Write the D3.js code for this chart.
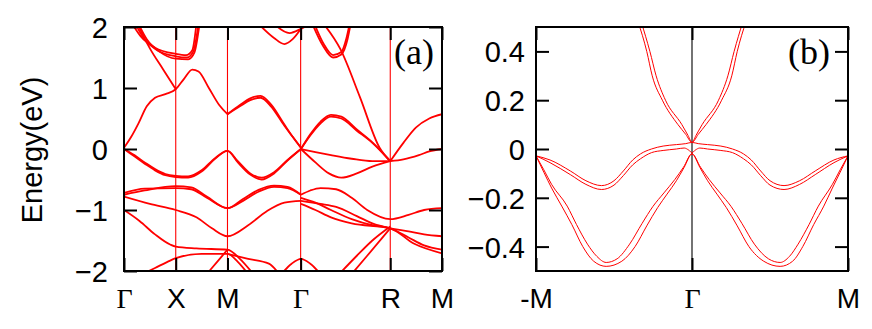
<!DOCTYPE html>
<html><head><meta charset="utf-8">
<script src="https://cdn.jsdelivr.net/npm/d3@7"></script>
<style>body{margin:0;background:#fff}</style>
</head><body><svg id="c" width="872" height="329"></svg>
<script>
// ---------- tick data ----------
const kTicksA = [0, 0.5, 1.0, 1.707, 2.573, 3.073];
const kLabelsA = ["Γ", "X", "M", "Γ", "R", "M"];
const eTicksA = [-2, -1, 0, 1, 2];
const kTicksB = [-1, 0, 1];
const kLabelsB = ["-M", "Γ", "M"];
const eTicksB = [-0.4, -0.2, 0, 0.2, 0.4];

// ---------- panel (a) bands: [k, E] ----------
const upperBandsA = [
  [[0,0.02],[0.07,0.2],[0.14,0.42],[0.22,0.7],[0.3,0.84],[0.4,0.9],[0.5,0.98],[0.58,1.15],[0.66,1.3],[0.72,1.27],[0.82,1.0],[0.92,0.72],[1.0,0.57]],
  [[0.13,2.05],[0.25,1.65],[0.38,1.3],[0.5,0.98]],
  [[0.08,2.05],[0.16,1.85],[0.3,1.66],[0.5,1.56],[0.6,1.54],[0.66,1.62],[0.70,2.05]],
  [[0.11,2.05],[0.19,1.82],[0.32,1.62],[0.5,1.52],[0.61,1.5],[0.67,1.6],[0.72,2.05]],
  [[0.14,2.05],[0.22,1.8],[0.34,1.6],[0.5,1.48],[0.62,1.47],[0.68,1.58],[0.73,2.05]],
  [[1.0,0.57],[1.12,0.7],[1.22,0.8],[1.32,0.84],[1.42,0.7],[1.55,0.38],[1.63,0.2],[1.71,0.02]],
  [[1.0,0.57],[1.12,0.72],[1.22,0.83],[1.32,0.87],[1.42,0.73],[1.55,0.4],[1.63,0.2],[1.71,0.02]],
  [[1.71,0.0],[1.8,0.22],[1.9,0.42],[2.0,0.53],[2.1,0.5],[2.25,0.3],[2.4,0.1],[2.573,-0.2]],
  [[1.71,0.0],[1.8,0.24],[1.9,0.45],[2.0,0.56],[2.1,0.53],[2.25,0.32],[2.4,0.11],[2.573,-0.2]],
  [[1.93,2.05],[2.09,1.64],[2.28,0.85],[2.47,0.02],[2.573,-0.2]],
  [[1.82,2.05],[1.92,1.7],[2.02,1.5],[2.1,1.55],[2.16,1.8],[2.19,2.05]],
  [[1.84,2.05],[1.93,1.72],[2.02,1.54],[2.1,1.59],[2.15,1.82],[2.18,2.05]],
  [[1.3,2.05],[1.45,1.82],[1.55,1.72],[1.63,1.8],[1.71,1.97]],
  [[1.45,2.05],[1.6,1.9],[1.71,1.97],[1.8,2.05]],
  [[2.573,-0.2],[2.7,0.1],[2.82,0.35],[2.95,0.5],[3.073,0.57]],
  [[2.573,-0.2],[2.7,-0.17],[2.85,-0.1],[2.95,-0.04],[3.073,0.0]]
];
const lowerBandsA = [
  [[0,0.0],[0.1,-0.1],[0.2,-0.22],[0.3,-0.33],[0.4,-0.41],[0.5,-0.44],[0.62,-0.45],[0.75,-0.35],[0.88,-0.15],[1.0,-0.03],[1.1,-0.2],[1.22,-0.4],[1.33,-0.47],[1.45,-0.38],[1.58,-0.18],[1.71,0.0]],
  [[0,0.0],[0.1,-0.12],[0.2,-0.24],[0.3,-0.35],[0.4,-0.43],[0.5,-0.46],[0.62,-0.47],[0.75,-0.37],[0.88,-0.16],[1.0,-0.03],[1.1,-0.22],[1.22,-0.42],[1.33,-0.5],[1.45,-0.4],[1.58,-0.19],[1.71,0.0]],
  [[1.71,0],[1.85,-0.22],[1.98,-0.4],[2.1,-0.47],[2.25,-0.4],[2.4,-0.29],[2.573,-0.2]],
  [[1.71,0],[1.85,-0.05],[2.0,-0.1],[2.2,-0.16],[2.4,-0.2],[2.573,-0.2]],
  [[0,-0.75],[0.2,-0.68],[0.5,-0.61],[0.65,-0.63],[0.8,-0.78],[1.0,-0.97],[1.15,-0.85],[1.3,-0.7],[1.45,-0.62],[1.58,-0.64],[1.71,-0.75]],
  [[0,-0.72],[0.2,-0.65],[0.5,-0.64],[0.65,-0.66],[0.8,-0.8],[1.0,-0.97],[1.15,-0.82],[1.3,-0.67],[1.45,-0.6],[1.58,-0.62],[1.71,-0.75]],
  [[0,-0.78],[0.25,-0.9],[0.5,-1.0],[0.7,-1.12],[0.85,-1.3],[1.0,-1.43],[1.2,-1.25],[1.38,-1.02],[1.55,-0.88],[1.71,-0.85]],
  [[0,-1.0],[0.15,-1.18],[0.3,-1.4],[0.45,-1.57],[0.5,-1.6],[0.7,-1.63],[1.0,-1.65],[1.12,-1.8],[1.25,-2.05]],
  [[0.18,-2.05],[0.3,-1.95],[0.42,-1.85],[0.5,-1.79],[0.75,-1.72],[1.0,-1.72],[1.1,-1.85],[1.2,-2.05]],
  [[0.8,-2.05],[0.9,-1.85],[1.0,-1.65]],
  [[1.71,-0.75],[1.8,-0.68],[1.9,-0.64],[2.05,-0.66],[2.2,-0.8],[2.35,-1.0],[2.573,-1.15],[2.75,-1.08],[2.9,-1.0],[3.073,-0.97]],
  [[1.71,-0.85],[1.9,-0.9],[2.05,-0.95],[2.25,-1.1],[2.4,-1.22],[2.573,-1.3],[2.75,-1.35],[2.9,-1.4],[3.073,-1.43]],
  [[1.71,-0.8],[1.85,-0.88],[2.0,-1.0],[2.2,-1.15],[2.4,-1.25],[2.573,-1.3],[2.75,-1.45],[2.9,-1.58],[3.073,-1.65]],
  [[1.71,-0.9],[1.85,-1.0],[2.0,-1.12],[2.2,-1.22],[2.573,-1.3],[2.8,-1.55],[3.073,-1.71]],
  [[2.08,-2.05],[2.25,-1.75],[2.4,-1.5],[2.573,-1.27]],
  [[2.2,-2.05],[2.35,-1.75],[2.573,-1.3]],
  [[1.52,-2.05],[1.62,-1.88],[1.71,-1.8],[1.8,-1.88],[1.9,-2.05]],
  [[1.0,-1.72],[1.2,-1.8],[1.4,-1.88],[1.5,-2.05]]
];

// ---------- panel (b) bands: [k, E], -M=-1, Γ=0, M=1 ----------
const condBandsB = [
  [[-0.345,0.52],[-0.29,0.4],[-0.255,0.3],[-0.19,0.2],[-0.09,0.1],[-0.04,0.06],[0,0.027],[0.04,0.06],[0.09,0.1],[0.19,0.2],[0.255,0.3],[0.29,0.4],[0.345,0.52]],
  [[-0.325,0.52],[-0.27,0.4],[-0.23,0.3],[-0.17,0.2],[-0.065,0.1],[-0.025,0.055],[0,0.027],[0.025,0.055],[0.065,0.1],[0.17,0.2],[0.23,0.3],[0.27,0.4],[0.325,0.52]]
];
const flatBandsB = [
  [[-1,-0.028],[-0.91,-0.045],[-0.78,-0.09],[-0.68,-0.13],[-0.58,-0.15],[-0.5,-0.13],[-0.44,-0.09],[-0.38,-0.045],[-0.33,-0.02],[-0.26,0.0],[-0.185,0.012],[-0.1,0.018],[-0.04,0.022],[0,0.027],[0.04,0.022],[0.1,0.018],[0.185,0.012],[0.26,0.0],[0.33,-0.02],[0.38,-0.045],[0.44,-0.09],[0.5,-0.13],[0.59,-0.15],[0.69,-0.13],[0.79,-0.09],[0.91,-0.045],[1,-0.028]],
  [[-1,-0.028],[-0.91,-0.056],[-0.78,-0.105],[-0.68,-0.145],[-0.58,-0.166],[-0.5,-0.148],[-0.44,-0.109],[-0.38,-0.065],[-0.33,-0.04],[-0.26,-0.015],[-0.185,-0.006],[-0.1,0.0],[-0.05,0.004],[-0.02,-0.005],[0,-0.015],[0.02,-0.005],[0.05,0.004],[0.1,0.0],[0.185,-0.006],[0.26,-0.015],[0.33,-0.04],[0.38,-0.065],[0.44,-0.109],[0.5,-0.148],[0.59,-0.166],[0.69,-0.145],[0.79,-0.105],[0.91,-0.056],[1,-0.028]]
];
const deepBandsB = [
  [[-1,-0.028],[-0.95,-0.095],[-0.9,-0.16],[-0.835,-0.234],[-0.77,-0.31],[-0.70,-0.40],[-0.63,-0.46],[-0.55,-0.481],[-0.45,-0.46],[-0.365,-0.40],[-0.29,-0.315],[-0.22,-0.24],[-0.16,-0.185],[-0.1,-0.13],[-0.05,-0.075],[0,-0.02],[0.05,-0.075],[0.1,-0.13],[0.16,-0.185],[0.22,-0.24],[0.29,-0.315],[0.365,-0.40],[0.46,-0.46],[0.565,-0.481],[0.645,-0.46],[0.71,-0.40],[0.78,-0.31],[0.845,-0.234],[0.9,-0.16],[0.95,-0.095],[1,-0.028]],
  [[-1,-0.028],[-0.95,-0.085],[-0.9,-0.145],[-0.80,-0.234],[-0.74,-0.31],[-0.67,-0.39],[-0.61,-0.44],[-0.55,-0.465],[-0.48,-0.45],[-0.40,-0.39],[-0.32,-0.305],[-0.25,-0.235],[-0.18,-0.18],[-0.11,-0.125],[-0.055,-0.075],[0,-0.02],[0.055,-0.075],[0.11,-0.125],[0.18,-0.18],[0.25,-0.235],[0.32,-0.305],[0.40,-0.39],[0.49,-0.45],[0.565,-0.465],[0.625,-0.44],[0.68,-0.39],[0.75,-0.31],[0.81,-0.234],[0.9,-0.145],[0.95,-0.085],[1,-0.028]]
];

const svg = d3.select("#c");
const RED = "#ff0000";
const sans = "'Liberation Sans', Arial, sans-serif";
const serif = "'Liberation Serif', 'Times New Roman', serif";

function panel(opts) {
  const {x0,x1,y0,y1,kDom,eDom,kTicks,kLabels,eTicks,eFmt,vColor,bands,tag,tagX,id,pad} = opts;
  const x = d3.scaleLinear().domain(kDom).range([x0,x1]);
  const y = d3.scaleLinear().domain(eDom).range([y1,y0]);
  const g = svg.append("g");
  g.append("clipPath").attr("id",id).append("rect").attr("x",x0).attr("y",y0).attr("width",x1-x0).attr("height",y1-y0);
  g.selectAll("line.v").data(kTicks.slice(1,-1)).join("line")
    .attr("x1",d=>x(d)).attr("x2",d=>x(d)).attr("y1",y0).attr("y2",y1)
    .attr("stroke",vColor).attr("stroke-width",1.1);
  const line = d3.line().x(d=>x(d[0])).y(d=>y(d[1])).curve(d3.curveMonotoneX);
  const bg = g.append("g").attr("clip-path",`url(#${id})`);
  bands.forEach(b => {
    bg.selectAll(null).data(b.data).join("path")
      .attr("d",line).attr("fill","none").attr("stroke",RED).attr("stroke-width",b.w);
  });
  const left = g.append("g").attr("transform",`translate(${x0},0)`)
    .call(d3.axisLeft(y).tickValues(eTicks).tickFormat(eFmt).tickSize(-13).tickPadding(pad));
  left.selectAll("text").attr("font-family",sans).attr("font-size",29).attr("fill","#000").attr("dy","0.36em");
  g.append("g").attr("transform",`translate(${x1},0)`)
    .call(d3.axisRight(y).tickValues(eTicks).tickFormat("").tickSize(-13));
  const bottom = g.append("g").attr("transform",`translate(0,${y1})`)
    .call(d3.axisBottom(x).tickValues(kTicks).tickFormat((d,i)=>kLabels[i]).tickSize(-13).tickPadding(17));
  bottom.selectAll("text").attr("fill","#000")
    .attr("font-family",d=>kLabels[kTicks.indexOf(d)]==="Γ"?serif:sans).attr("font-size",28);
  g.append("g").attr("transform",`translate(0,${y0})`)
    .call(d3.axisTop(x).tickValues(kTicks).tickFormat("").tickSize(-13));
  g.selectAll(".domain").remove();
  g.selectAll(".tick line").attr("stroke","#000").attr("stroke-width",2);
  g.append("rect").attr("x",x0).attr("y",y0).attr("width",x1-x0).attr("height",y1-y0)
    .attr("fill","none").attr("stroke","#000").attr("stroke-width",2);
  g.append("text").attr("x",tagX).attr("y",y0+37).attr("text-anchor","middle")
    .attr("font-family",serif).attr("font-size",36).text(tag);
}

panel({id:"ca",x0:124,x1:442,y0:27,y1:271,kDom:[0,3.073],eDom:[-2,2],kTicks:kTicksA,kLabels:kLabelsA,
  eTicks:eTicksA,eFmt:d3.format("d"),vColor:RED,tag:"(a)",tagX:414,pad:16,
  bands:[{data:upperBandsA,w:1.8},{data:lowerBandsA,w:1.8}]});
panel({id:"cb",x0:536,x1:848,y0:27,y1:271,kDom:[-1,1],eDom:[-0.5,0.5],kTicks:kTicksB,kLabels:kLabelsB,
  eTicks:eTicksB,eFmt:d=>d===0?"0":d3.format(".1f")(d),vColor:"#000",tag:"(b)",tagX:809,pad:11,
  bands:[{data:condBandsB,w:1},{data:flatBandsB,w:1},{data:deepBandsB,w:1}]});

svg.append("text").attr("transform","translate(42,150) rotate(-90)").attr("text-anchor","middle")
  .attr("font-family",sans).attr("font-size",29).text("Energy(eV)");
</script></body></html>
